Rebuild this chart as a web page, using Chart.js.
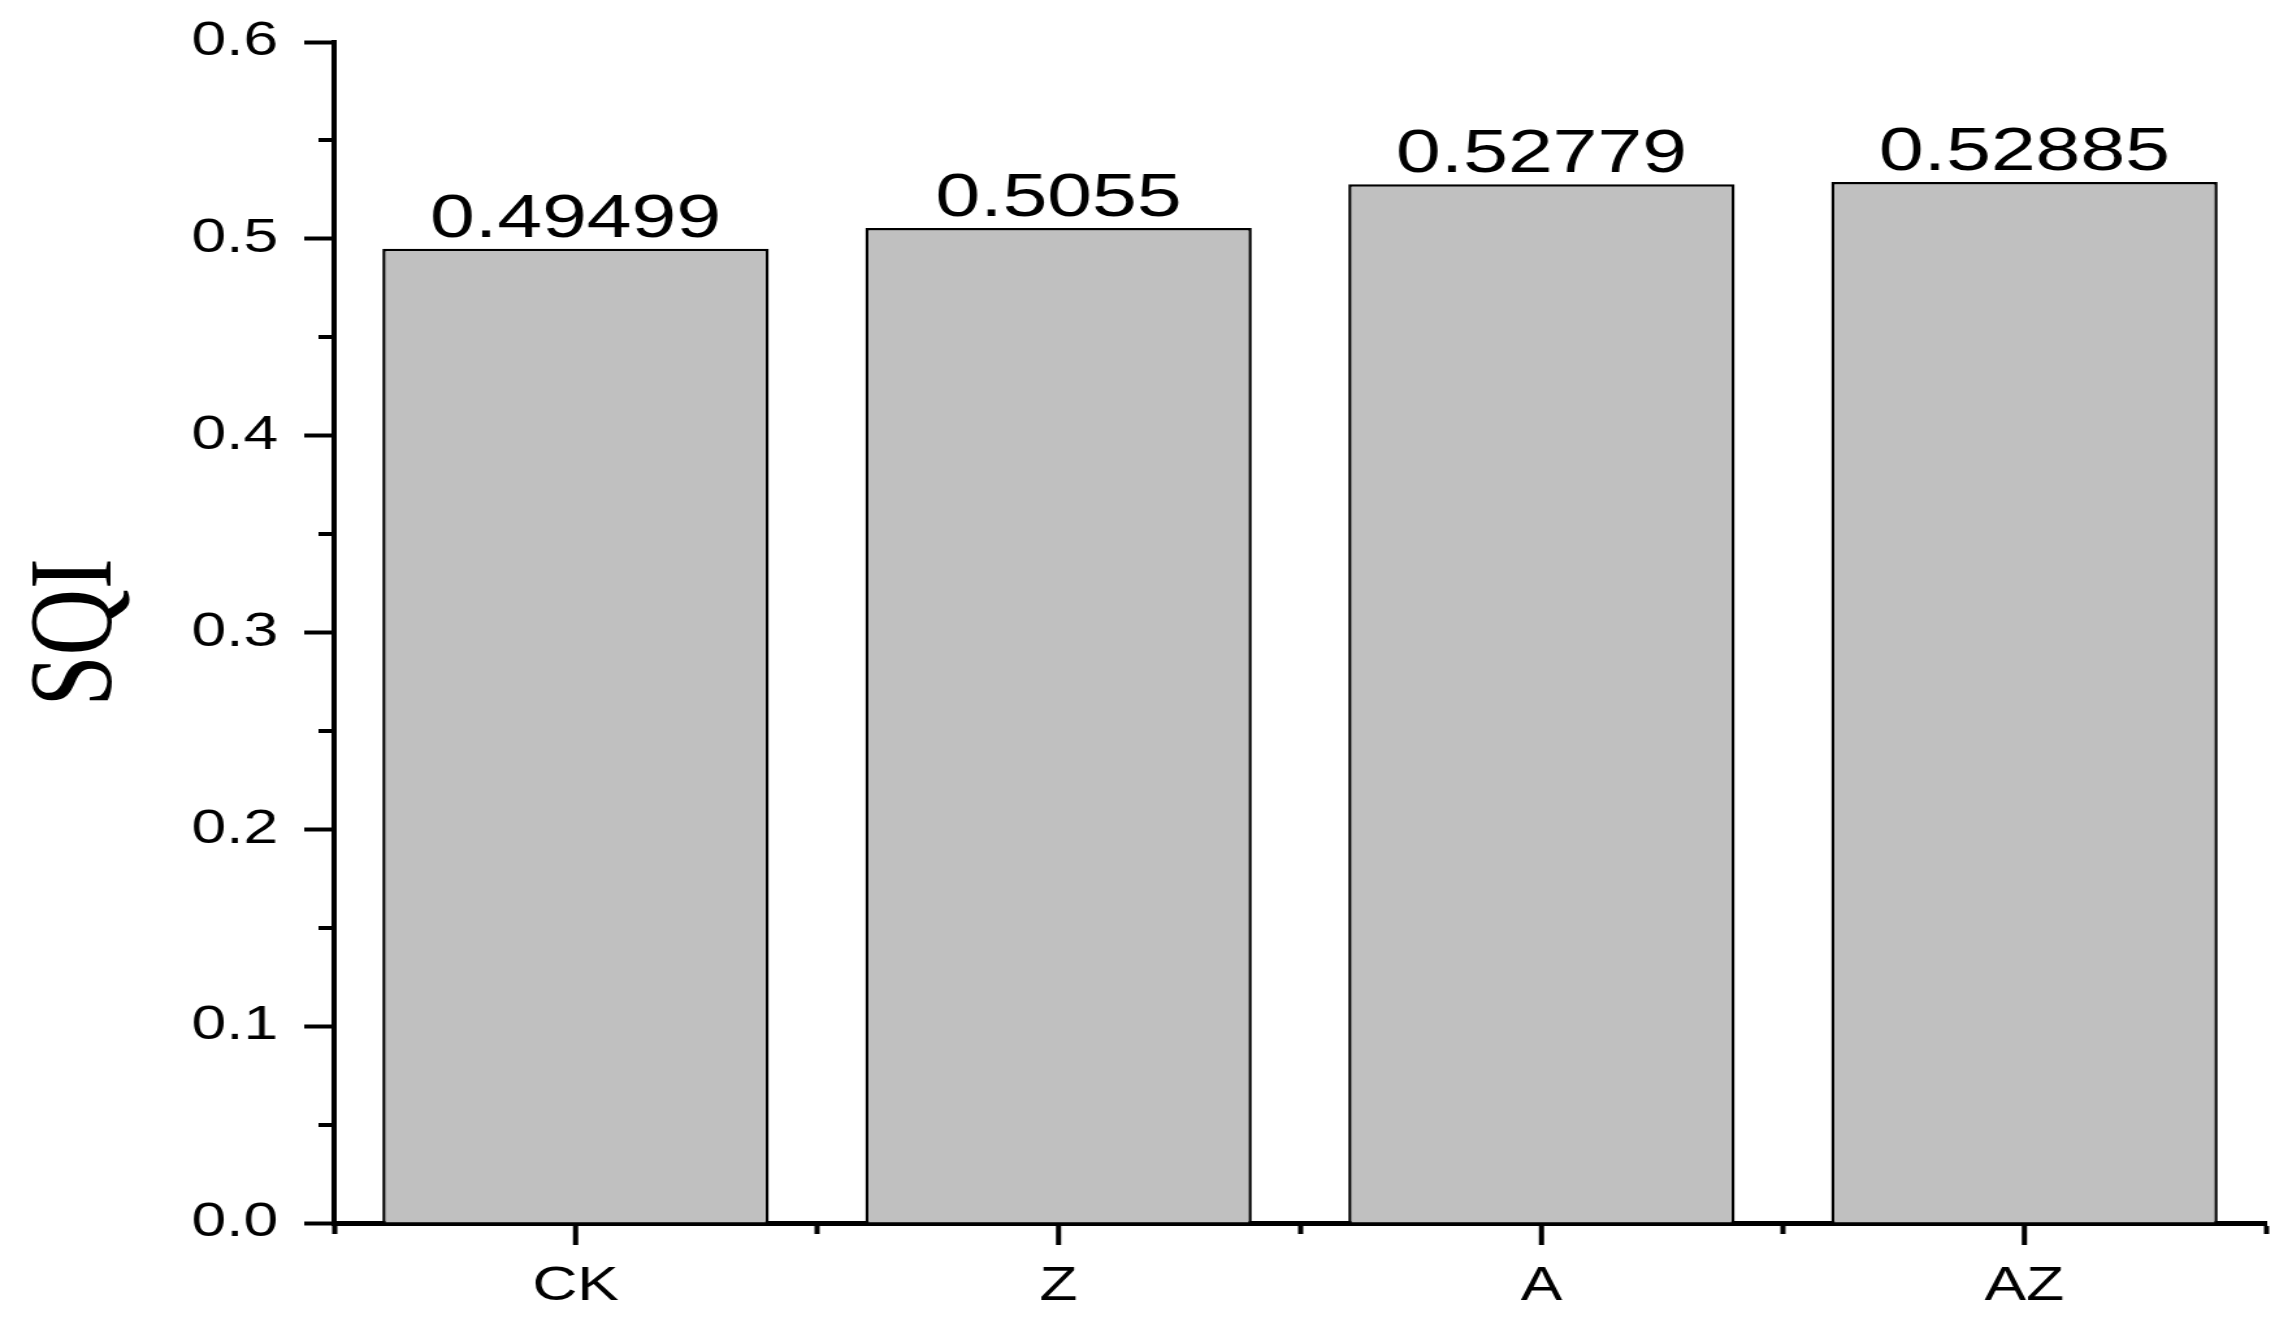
<!DOCTYPE html>
<html>
<head>
<meta charset="utf-8">
<script src="https://cdn.jsdelivr.net/npm/chart.js@4/dist/chart.umd.min.js"></script>
<style>
  html, body { margin: 0; padding: 0; background: #ffffff; overflow: hidden; }
  #wrap { width: 2288px; height: 1328px; position: relative; overflow: hidden; background: #fff; }
  #c { position: absolute; left: 0; top: 0; transform: scaleX(1.3); transform-origin: 0 0; }
</style>
</head>
<body>
<div id="wrap"><canvas id="c" width="1760" height="1328"></canvas></div>
<script>
const categories = ['CK', 'Z', 'A', 'AZ'];
const sqiValues = [0.49499, 0.5055, 0.52779, 0.52885];
const valueLabels = ['0.49499', '0.5055', '0.52779', '0.52885'];
const yMin = 0, yMax = 0.6, yStep = 0.05;
const yTitle = 'SQI';

const SANS = '"Liberation Sans", Arial, sans-serif';
const SERIF = '"Liberation Serif", "Times New Roman", serif';

const isMajor = v => Math.round(v * 100) % 10 === 0;

const extrasPlugin = {
  id: 'extras',
  afterDraw(chart) {
    const ctx = chart.ctx;
    const y = chart.scales.y, x = chart.scales.x;
    const area = chart.chartArea;
    ctx.save();
    ctx.strokeStyle = '#000';
    ctx.lineCap = 'butt';
    ctx.lineWidth = 4;
    y.ticks.forEach(t => {
      if (!isMajor(t.value)) {
        const py = Math.round(y.getPixelForValue(t.value));
        ctx.beginPath();
        ctx.moveTo(area.left, py);
        ctx.lineTo(area.left - 12, py);
        ctx.stroke();
      }
    });
    categories.forEach((c, i) => {
      const px = x.getPixelForTick(i);
      ctx.beginPath();
      ctx.moveTo(px, area.bottom);
      ctx.lineTo(px, area.bottom + 22);
      ctx.stroke();
    });
    const meta = chart.getDatasetMeta(0);
    ctx.fillStyle = '#000';
    ctx.font = '62px ' + SANS;
    ctx.textAlign = 'center';
    ctx.textBaseline = 'alphabetic';
    meta.data.forEach((bar, i) => {
      ctx.fillText(valueLabels[i], bar.x, bar.y - 12);
    });
    ctx.restore();
  }
};

new Chart(document.getElementById('c'), {
  type: 'bar',
  data: {
    labels: categories,
    datasets: [{
      data: sqiValues,
      backgroundColor: '#c0c0c0',
      borderColor: '#000000',
      borderWidth: 2.5,
      borderSkipped: 'bottom',
      barPercentage: 0.8,
      categoryPercentage: 1.0
    }]
  },
  options: {
    responsive: false,
    animation: false,
    devicePixelRatio: 1,
    layout: { padding: { top: 42, right: 17, bottom: 0, left: 0 } },
    plugins: { legend: { display: false }, tooltip: { enabled: false } },
    scales: {
      x: {
        offset: true,
        border: { display: true, color: '#000', width: 5 },
        grid: {
          offset: true,
          drawOnChartArea: false,
          drawTicks: true,
          tickLength: 11,
          tickWidth: 4,
          tickColor: '#000'
        },
        ticks: {
          color: '#000',
          font: { family: SANS, size: 48 },
          padding: 24,
          maxRotation: 0,
          autoSkip: false
        },
        afterFit(scale) { scale.height = 105; scale.paddingLeft = 0; scale.paddingRight = 0; }
      },
      y: {
        min: yMin,
        max: yMax,
        border: { display: true, color: '#000', width: 4 },
        grid: {
          drawOnChartArea: false,
          drawTicks: true,
          tickLength: 23,
          tickWidth: 4,
          tickColor: ctx => (ctx.tick && isMajor(ctx.tick.value)) ? '#000' : 'rgba(0,0,0,0)'
        },
        ticks: {
          stepSize: yStep,
          color: '#000',
          font: { family: SANS, size: 48 },
          padding: 20,
          autoSkip: false,
          callback: v => isMajor(v) ? (Math.round(v * 10) / 10).toFixed(1) : ''
        },
        title: {
          display: true,
          text: yTitle,
          color: '#000',
          font: { family: SERIF, size: 92 },
          padding: { top: 6, bottom: 0 }
        },
        afterFit(scale) { scale.width = 257; scale.paddingTop = 0; scale.paddingBottom = 0; }
      }
    }
  },
  plugins: [extrasPlugin]
});
</script>
</body>
</html>
